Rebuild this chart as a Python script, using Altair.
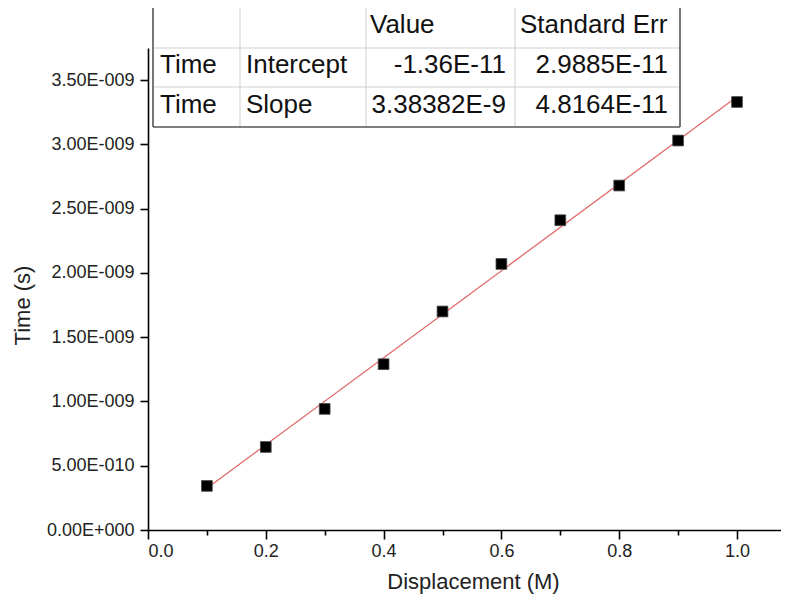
import altair as alt
import pandas as pd

# ---- data ----
displacement = [0.1, 0.2, 0.3, 0.4, 0.5, 0.6, 0.7, 0.8, 0.9, 1.0]
time_s = [3.43e-10, 6.46e-10, 9.42e-10, 1.29e-9, 1.70e-9, 2.07e-9, 2.41e-9, 2.68e-9, 3.03e-9, 3.33e-9]

fit_intercept = -1.36e-11
fit_slope = 3.38382e-9
fit_x = [0.1, 1.0]

x_ticks = [0.0, 0.1, 0.2, 0.3, 0.4, 0.5, 0.6, 0.7, 0.8, 0.9, 1.0]
y_ticks = [0.0, 2.5e-10, 5e-10, 7.5e-10, 1e-9, 1.25e-9, 1.5e-9, 1.75e-9, 2e-9,
           2.25e-9, 2.5e-9, 2.75e-9, 3e-9, 3.25e-9, 3.5e-9, 3.75e-9]

table_header = ["", "", "Value", "Standard Err"]
table_rows = [
    ["Time", "Intercept", "-1.36E-11", "2.9885E-11"],
    ["Time", "Slope", "3.38382E-9", "4.8164E-11"],
]

FONT = "Liberation Sans"
W, H = 633, 482
XMAX = 1.0747
YMAX = 3.75e-9

pts = pd.DataFrame({"x": displacement, "y": time_s})
fit = pd.DataFrame({"x": fit_x})

xscale = alt.Scale(domain=[0, XMAX], nice=False, zero=False)
yscale = alt.Scale(domain=[0, YMAX], nice=False, zero=False)

x_axis = alt.Axis(
    values=x_ticks,
    title="Displacement (M)",
    labelExpr="round(datum.value*10) % 2 == 0 ? format(datum.value, '.1f') : ''",
    tickSize={"condition": {"test": "round(datum.value*10) % 2 == 0", "value": 9}, "value": 5},
    grid=False,
    domainColor="black", domainWidth=1.6, tickColor="black", tickWidth=1.6,
    labelFont=FONT, labelFontSize=18, labelColor="#222", labelPadding=3,
    titleFont=FONT, titleFontSize=22, titleFontWeight="normal", titleColor="#222",
    titlePadding=11, titleX=325,
)
y_axis = alt.Axis(
    values=y_ticks,
    title="Time (s)",
    labelExpr=("round(datum.value*4e9) % 2 != 0 ? '' : datum.value == 0 ? '0.00E+000' : "
               "datum.value < 0.99e-9 ? format(datum.value*1e10, '.2f') + 'E-010' : "
               "format(datum.value*1e9, '.2f') + 'E-009'"),
    tickSize={"condition": {"test": "round(datum.value*4e9) % 2 == 0", "value": 8}, "value": 4},
    grid=False,
    domainColor="black", domainWidth=1.6, tickColor="black", tickWidth=1.6,
    labelFont=FONT, labelFontSize=18, labelColor="#222", labelPadding=6,
    titleFont=FONT, titleFontSize=22, titleFontWeight="normal", titleColor="#222",
    titleX=-126, titleY=257, titleBaseline="middle", titleAngle=270,
)

base_line = alt.Chart(fit).transform_calculate(
    y=f"{fit_intercept} + {fit_slope} * datum.x"
).mark_line(color="#e06868", strokeWidth=1.3).encode(
    x=alt.X("x:Q", scale=xscale, axis=x_axis),
    y=alt.Y("y:Q", scale=yscale, axis=y_axis),
)

points = alt.Chart(pts).mark_point(
    shape="square", filled=True, size=115, color="black", opacity=1,
    stroke="#444", strokeWidth=0.8,
).encode(
    x=alt.X("x:Q", scale=xscale),
    y=alt.Y("y:Q", scale=yscale),
)

# ---- table (pixel layout relative to plot area) ----
layers = [base_line, points]
one = pd.DataFrame({"a": [0]})


def rule(x1, x2, y1, y2, color, w=1.0):
    return alt.Chart(one).mark_rule(color=color, strokeWidth=w, clip=False).encode(
        x=alt.value(x1), x2=alt.value(x2), y=alt.value(y1), y2=alt.value(y2)
    )


T_L, T_R, T_T, T_B = 5, 532, -42, 79
cols = [92, 218, 367]
rows = [0, 39]
inner = "#cfcfcf"
outer = "#555555"

# white background behind table
layers.append(
    alt.Chart(one).mark_rect(color="white", clip=False).encode(
        x=alt.value(T_L), x2=alt.value(T_R), y=alt.value(T_T), y2=alt.value(T_B)
    )
)
for c in cols:
    layers.append(rule(c, c, T_T, T_B, inner))
for r in rows:
    layers.append(rule(T_L, T_R, r, r, inner))
# outer border (top border missing over 2nd column)
layers.append(rule(T_L, cols[0], T_T, T_T, outer, 1.6))
layers.append(rule(cols[1], T_R, T_T, T_T, outer, 1.6))
layers.append(rule(T_L, T_R, T_B, T_B, outer, 1.6))
layers.append(rule(T_L, T_L, T_T, T_B, outer, 1.6))
layers.append(rule(T_R, T_R, T_T, T_B, outer, 1.6))


def text(s, x, y, align):
    return alt.Chart(one).mark_text(
        text=s, align=align, baseline="alphabetic", font=FONT, fontSize=26,
        color="#111", clip=False,
    ).encode(x=alt.value(x), y=alt.value(y))


col_x = [(12, "left"), (98, "left"), (358, "right"), (520, "right")]
header_x = [(12, "left"), (98, "left"), (222, "left"), (372, "left")]
for (x, a), s in zip(header_x, table_header):
    if s:
        layers.append(text(s, x, -15, a))
row_base = [25, 65]
for yb, row in zip(row_base, table_rows):
    for (x, a), s in zip(col_x, row):
        layers.append(text(s, x, yb, a))

chart = alt.layer(*layers).properties(
    width=W, height=H,
    autosize=alt.AutoSizeParams(type="none"),
    padding={"left": 140, "top": 40, "right": 0, "bottom": 64},
).configure_view(stroke=None)

chart.save("out.html", embed_options={"renderer": "svg", "actions": False})
